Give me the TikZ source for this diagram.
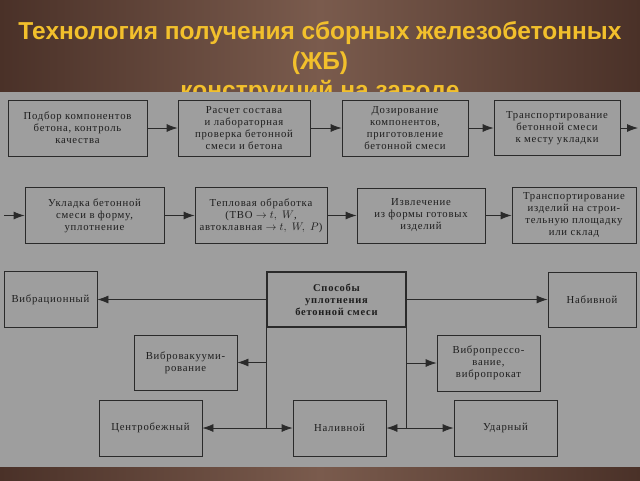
\documentclass[tikz,border=0pt]{standalone}
\usepackage{fontspec}
\setmainfont{Liberation Serif}
\newfontfamily\titlefont{Liberation Sans}
\newfontfamily\boxfont[LetterSpace=7]{Liberation Serif}
\usetikzlibrary{arrows.meta}
\definecolor{fonbrown}{HTML}{7A5B4D}
\definecolor{fondark}{HTML}{4A3128}
\definecolor{panelgrey}{HTML}{9E9E9E}
\definecolor{titlegold}{HTML}{F2C02C}
\definecolor{linegrey}{HTML}{2A2A2A}
\definecolor{textgrey}{HTML}{1E1E1E}

\begin{document}
\begin{tikzpicture}[x=1pt, y=-1pt, >={Latex[length=11pt, width=8pt]},
	blok/.style={draw=linegrey, line width=0.8pt, inner sep=1pt, align=center,
		font=\boxfont\fontsize{10.7}{12}\selectfont, text=textgrey},
	svyaz/.style={->, draw=linegrey, line width=0.8pt}]
	\useasboundingbox (0,0) rectangle (640,480);
	%%%	Fon
	\shade[left color=fondark, right color=fondark, middle color=fonbrown] (0,0) rectangle (640,480);
	\node[font=\titlefont\bfseries\fontsize{24.5}{29.5}\selectfont, text=titlegold, align=center] (titul) at (320,63)
		{Технология получения сборных железобетонных\\(ЖБ)\\конструкций на заводе};
	\fill[panelgrey] (0,92) rectangle (640,467);
	%%%	Ryad 1
	\node[blok, minimum width=139pt, minimum height=56pt] (podbor) at (77.5,128) {Подбор компонентов\\бетона, контроль\\качества};
	\node[blok, minimum width=132pt, minimum height=56pt] (raschet) at (244,128) {Расчет состава\\и лабораторная\\проверка бетонной\\смеси и бетона};
	\node[blok, minimum width=126pt, minimum height=56pt] (dozir) at (405,128) {Дозирование\\компонентов,\\приготовление\\бетонной смеси};
	\node[blok, minimum width=126pt, minimum height=55pt] (transp) at (557,128) {Транспортирование\\бетонной смеси\\к месту укладки};
	\coordinate (vyhod) at (638,128);
	\draw[svyaz] (podbor) -- (raschet);
	\draw[svyaz] (raschet) -- (dozir);
	\draw[svyaz] (dozir) -- (transp);
	\draw[svyaz] (transp) -- (vyhod);
	%%%	Ryad 2
	\coordinate (vhod) at (4,215.5);
	\node[blok, minimum width=139pt, minimum height=56pt] (ukladka) at (94.5,215.5) {Укладка бетонной\\смеси в форму,\\уплотнение};
	\node[blok, minimum width=132pt, minimum height=56pt] (tvo) at (261,215.5) {Тепловая обработка\\(ТВО $\rightarrow t,\ W$,\\автоклавная $\rightarrow t,\ W,\ P$)};
	\node[blok, minimum width=128pt, minimum height=55pt] (izvlech) at (421,215.5) {Извлечение\\из формы готовых\\изделий};
	\node[blok, minimum width=124pt, minimum height=56pt] (izdel) at (574,215.5) {Транспортирование\\изделий на строи-\\тельную площадку\\или склад};
	\draw[svyaz] (vhod) -- (ukladka);
	\draw[svyaz] (ukladka) -- (tvo);
	\draw[svyaz] (tvo) -- (izvlech);
	\draw[svyaz] (izvlech) -- (izdel);
	%%%	Sposoby uplotneniya
	\node[blok, line width=1.3pt, font=\boxfont\bfseries\fontsize{10.5}{12}\selectfont, minimum width=139pt, minimum height=55pt] (sposoby) at (336.5,299.5) {Способы\\уплотнения\\бетонной смеси};
	\node[blok, minimum width=93pt, minimum height=56pt] (vibr) at (50.5,299.5) {Вибрационный};
	\node[blok, minimum width=88pt, minimum height=55pt] (nabiv) at (592,299.5) {Набивной};
	\node[blok, minimum width=103pt, minimum height=55pt] (vakuum) at (185.5,362.5) {Вибровакууми-\\рование};
	\node[blok, minimum width=103pt, minimum height=56pt] (press) at (488.5,363) {Вибропрессо-\\вание,\\вибропрокат};
	\node[blok, minimum width=103pt, minimum height=56pt] (centrob) at (150.5,428) {Центробежный};
	\node[blok, minimum width=93pt, minimum height=56pt] (naliv) at (339.5,428) {Наливной};
	\node[blok, minimum width=103pt, minimum height=56pt] (udar) at (505.5,428) {Ударный};
	\draw[svyaz] (sposoby) -- (vibr);
	\draw[svyaz] (sposoby) -- (nabiv);
	% levaya shina
	\draw[linegrey, line width=0.8pt] (sposoby.south west) -- (sposoby.south west |- centrob.east);
	\draw[svyaz] (sposoby.south west |- vakuum.east) -- (vakuum.east);
	\draw[svyaz] (sposoby.south west |- centrob.east) -- (centrob.east);
	\draw[svyaz] (sposoby.south west |- naliv.west) -- (naliv.west);
	% pravaya shina
	\draw[linegrey, line width=0.8pt] (sposoby.south east) -- (sposoby.south east |- udar.west);
	\draw[svyaz] (sposoby.south east |- press.west) -- (press.west);
	\draw[svyaz] (sposoby.south east |- udar.west) -- (udar.west);
	\draw[svyaz] (sposoby.south east |- naliv.east) -- (naliv.east);
\end{tikzpicture}
\end{document}
